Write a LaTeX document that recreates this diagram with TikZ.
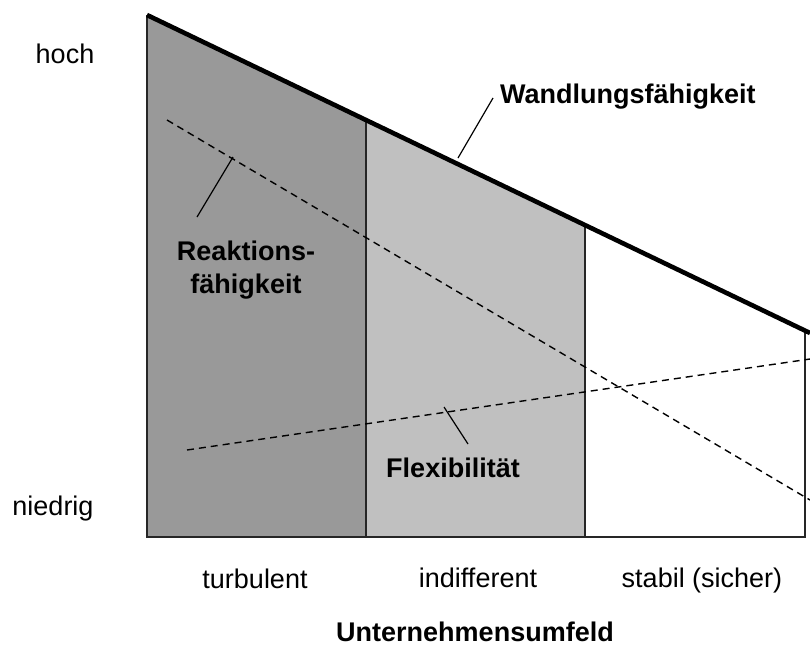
\documentclass[tikz,border=0pt]{standalone}
\usepackage{fontspec}
\setmainfont{Liberation Sans}
\definecolor{darkzone}{HTML}{999999}
\definecolor{midzone}{HTML}{C0C0C0}
\begin{document}
\begin{tikzpicture}[x=1pt,y=-1pt,
  lbl/.style={font=\fontsize{27}{33}\selectfont, inner sep=0pt, anchor=base},
  blbl/.style={font=\fontsize{27}{33}\selectfont\bfseries, inner sep=0pt, anchor=base},
  frame/.style={line width=1.6pt, draw=black!85},
  trend/.style={line width=1.4pt, dash pattern=on 7pt off 5pt},
  leader/.style={line width=1.2pt},
  capline/.style={line width=4.6pt}]
\useasboundingbox (0,0) rectangle (810,646);

% corners of the three zones
\coordinate (tl) at (147,15);
\coordinate (bl) at (147,537);
\coordinate (t1) at (366,120);
\coordinate (b1) at (366,537);
\coordinate (t2) at (585,225);
\coordinate (b2) at (585,537);
\coordinate (t3) at (805,330);
\coordinate (b3) at (805,537);
\coordinate (tend) at (810,333);

% zone fills
\fill[darkzone] (tl) -- (t1) -- (b1) -- (bl) -- cycle;
\fill[midzone] (t1) -- (t2) -- (b2) -- (b1) -- cycle;

% frame and zone borders
\draw[frame] (tl) -- (bl) -- (b3) -- (t3);
\draw[frame] (t1) -- (b1);
\draw[frame] (t2) -- (b2);

% trend lines
\coordinate (r0) at (167,120);
\coordinate (r1) at (810,500);
\coordinate (f0) at (187,450);
\coordinate (f1) at (810,359);
\draw[trend] (r0) -- (r1);
\draw[trend] (f0) -- (f1);

% upper boundary: Wandlungsfähigkeit
\draw[capline] (tl) -- (tend);

% axis labels
\node[lbl] (hoch) at (65,63) {hoch};
\node[lbl] (niedrig) at (53,515) {niedrig};
\node[lbl] (turb) at (255,588) {turbulent};
\node[lbl] (indiff) at (478,587) {indifferent};
\node[lbl] (stabil) at (702,587) {stabil (sicher)};
\node[blbl] (umfeld) at (475,641) {Unternehmensumfeld};

% curve labels
\node[blbl, anchor=base west] (wand) at (500,103) {Wandlungsfähigkeit};
\node[blbl] (reak1) at (246,260) {Reaktions-};
\node[blbl] (reak2) at (246,293) {fähigkeit};
\node[blbl] (flex) at (453,477) {Flexibilität};

% leader lines
\coordinate (wandA) at (458,158);
\coordinate (wandB) at (493,98);
\coordinate (reakA) at (233,157);
\coordinate (reakB) at (197,217);
\coordinate (flexA) at (444,407);
\coordinate (flexB) at (468,444);
\draw[leader] (wandA) -- (wandB);
\draw[leader] (reakA) -- (reakB);
\draw[leader] (flexA) -- (flexB);
\end{tikzpicture}
\end{document}
